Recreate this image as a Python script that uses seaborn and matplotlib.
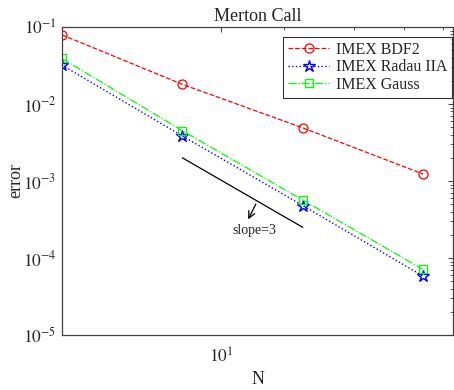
import numpy as np
import pandas as pd
import matplotlib
matplotlib.use("Agg")
import matplotlib.pyplot as plt
import seaborn as sns
from matplotlib.ticker import FixedLocator, LogLocator, NullFormatter

# Data
N = [4, 8, 16, 32]
err_bdf2 = [0.079, 0.018, 0.0049, 0.00123]
err_radau = [0.032, 0.00384, 0.00048, 0.000058]
err_gauss = [0.039, 0.0045, 0.000566, 0.000071]

slope_N = [8, 16]
slope_err = [2.0e-3, 2.5e-4]

sns.set_style("white")
plt.rcParams['font.family'] = ['Liberation Serif', 'DejaVu Serif']
plt.rcParams['mathtext.fontset'] = 'stix'

fig = plt.figure(figsize=(4.54, 3.90), dpi=100)
ax = fig.add_axes([62 / 454, 55 / 390, 391 / 454, 308 / 390])

sns.lineplot(x=N, y=err_bdf2, ax=ax, color='#ff0000', linestyle='--', marker='o',
             markersize=6.5, markerfacecolor='none', markeredgecolor='#ff0000',
             markeredgewidth=0.9, linewidth=0.9, label='IMEX BDF2')
sns.lineplot(x=N, y=err_radau, ax=ax, color='#0000ff', linestyle=':', marker='*',
             markersize=9, markerfacecolor='none', markeredgecolor='#0000ff',
             markeredgewidth=1.0, linewidth=1.0, label='IMEX Radau IIA')
sns.lineplot(x=N, y=err_gauss, ax=ax, color='#00ff00', linestyle='-.', marker='s',
             markersize=6, markerfacecolor='none', markeredgecolor='#00ff00',
             markeredgewidth=0.9, linewidth=0.9, label='IMEX Gauss')

# slope reference line and arrow
ax.plot(slope_N, slope_err, color='black', linewidth=0.9)
ax.annotate('', xy=(11.6, 2.95e-4), xytext=(12.3, 5.4e-4),
            arrowprops=dict(arrowstyle='->', color='black', lw=0.9,
                            mutation_scale=12))
ax.text(12.1, 2.3e-4, 'slope=3', fontsize=10, ha='center', va='center')

ax.set_xscale('log')
ax.set_yscale('log')
ax.set_xlim(4, 38)
ax.set_ylim(1e-5, 1e-1)

ax.xaxis.set_major_locator(FixedLocator([10]))
ax.set_xticklabels([r'$10^{1}$'])
ax.xaxis.set_minor_locator(FixedLocator([14.4, 21.5, 28.7, 35.9]))
ax.xaxis.set_minor_formatter(NullFormatter())
ax.yaxis.set_major_locator(FixedLocator([1e-5, 1e-4, 1e-3, 1e-2, 1e-1]))
ax.set_yticklabels([r'$10^{-5}$', r'$10^{-4}$', r'$10^{-3}$', r'$10^{-2}$', r'$10^{-1}$'])
ax.yaxis.set_minor_locator(LogLocator(base=10, subs=np.arange(2, 10), numticks=20))
ax.yaxis.set_minor_formatter(NullFormatter())

ax.tick_params(which='both', direction='in', top=True, right=True,
               color='#404040', labelsize=12.5, labelcolor='#262626')
ax.tick_params(which='major', length=3.5, width=0.7, pad=4)
ax.tick_params(axis='x', which='major', pad=9)
ax.tick_params(which='minor', length=2, width=0.6)
for sp in ax.spines.values():
    sp.set_color('#404040')
    sp.set_linewidth(0.9)

ax.set_xlabel('N', fontsize=13, color='#262626', labelpad=3)
ax.set_ylabel('error', fontsize=13, color='#262626', labelpad=-1)
ax.set_title('Merton Call', fontsize=13, pad=4)

leg = ax.legend(loc='upper right', bbox_to_anchor=(0.997, 0.968), fontsize=11.5,
                handlelength=2.6, handletextpad=0.4, borderpad=0.3,
                labelspacing=0.1, borderaxespad=0, frameon=True, fancybox=False)
leg.get_frame().set_edgecolor('black')
leg.get_frame().set_linewidth(0.8)

fig.savefig('out.png', dpi=100)
